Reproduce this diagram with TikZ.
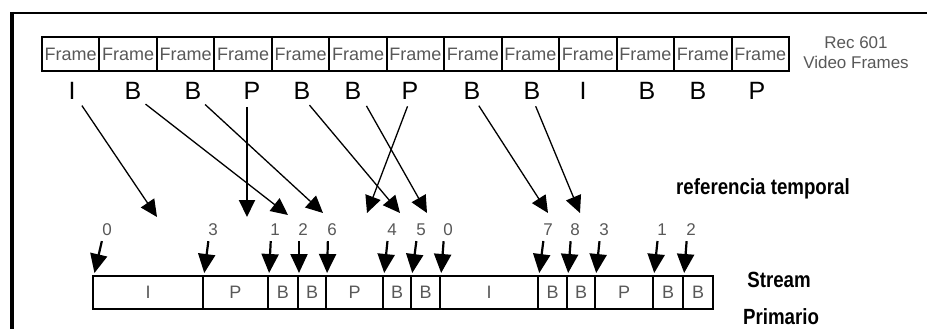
\documentclass[tikz,border=0pt]{standalone}
\usepackage{fontspec}
\setmainfont{Liberation Sans}
\newfontfamily\tagfont[FakeStretch=0.85]{Liberation Sans Bold}
\usetikzlibrary{arrows.meta}
\definecolor{txtgray}{HTML}{585858}
\tikzset{
	framebox/.style={draw, line width=2pt, minimum width=57.46pt, minimum height=34pt, inner sep=0pt, text=txtgray, font=\fontsize{18}{18}\selectfont},
	ftype/.style={inner sep=0pt, font=\fontsize{25}{25}\selectfont},
	cell/.style={draw, line width=2pt, minimum height=33pt, inner sep=0pt, text=txtgray, font=\fontsize{18}{18}\selectfont},
	order/.style={inner sep=0pt, text=txtgray, font=\fontsize{17}{17}\selectfont},
	refarrow/.style={line width=1.3pt, shorten <=7pt, -{Triangle[width=16pt,length=17pt]}},
	pickarrow/.style={line width=2.2pt, shorten <=5pt, shorten >=2pt, -{Triangle[width=17pt,length=19pt]}},
	tag/.style={inner sep=0pt, font=\tagfont\fontsize{22}{22}\selectfont}
}
\begin{document}
\begin{tikzpicture}[x=1pt,y=-1pt]
	\useasboundingbox (0,0) rectangle (927,329);
	\draw[line width=2.5pt] (927,13) -- (12,13);
	\draw[line width=4.5pt] (12,12) -- (12,329);
	% video frames and their picture types
	\foreach \i/\t/\x in {1/I/72,2/B/133,3/B/193,4/P/252,5/B/302,6/B/353,7/P/410,8/B/472,9/B/532,10/I/583,11/B/647,12/B/698,13/P/757} {
		\node[framebox] (f\i) at ({42+57.46*(\i-0.5)},54) {Frame};
		\node[ftype] (t\i) at (\x,91) {\t};
	}
	\node[align=center, inner sep=0pt, text=txtgray, font=\fontsize{17}{20}\selectfont] (rec) at (856,53) {Rec 601\\Video Frames};
	% reordering
	\foreach \i/\dx/\tx/\ty in {1/6/157/217, 2/7/288/215, 3/7/323/213, 5/3/400/213, 6/10/427/213, 7/0/367/213, 8/3/548/213, 9/1/580/213} {
		\coordinate (r\i) at (\tx,\ty);
		\draw[refarrow] ([xshift=\dx]t\i.south) -- (r\i);
	}
	\coordinate (r4) at (247,217);
	\draw[refarrow, line width=2pt] ([xshift=-5]t4.south) -- (r4);
	\node[tag] (temporal) at (763,189) {referencia temporal};
	% elementary stream
	\foreach \i/\l/\r/\t/\n/\nx in {1/93/203/I/0/107, 2/203/268/P/3/213, 3/268/298/B/1/275, 4/298/326/B/2/303, 5/326/383/P/6/332, 6/383/411/B/4/392, 7/411/440/B/5/421, 8/440/538/I/0/448, 9/538/567/B/7/548, 10/567/595/B/8/575, 11/595/653/P/3/604, 12/653/683/B/1/662, 13/683/713/B/2/691} {
		\node[cell, minimum width={(\r-\l)*1pt}] (s\i) at ({(\l+\r)/2},292.5) {\t};
		\node[order] (n\i) at (\nx,230) {\n};
		\draw[pickarrow] ([xshift=-4]n\i.south) -- ([xshift=2]s\i.north west);
	}
	\node[tag] (stream) at (779,280) {Stream};
	\node[tag] (primario) at (781,317) {Primario};
\end{tikzpicture}
\end{document}
